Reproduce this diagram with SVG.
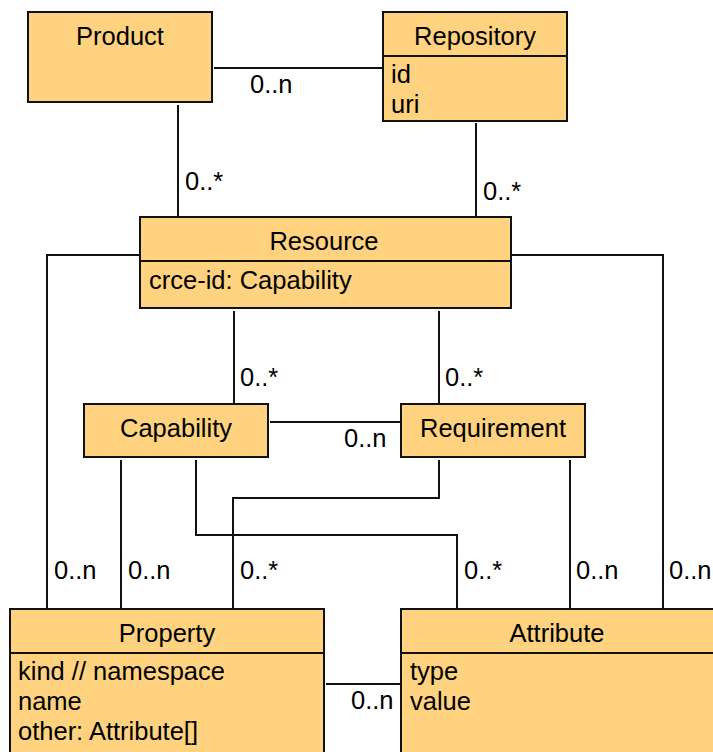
<svg xmlns="http://www.w3.org/2000/svg" width="713" height="752" viewBox="0 0 713 752">
  <style>
    .box { fill: #FED27F; stroke: #111; stroke-width: 2; }
    .div { stroke: #111; stroke-width: 2; }
    .link { fill: none; stroke: #111; stroke-width: 2; }
    text { font-family: "Liberation Sans", Arial, sans-serif; font-size: 25.5px; fill: #000; }
    .title { text-anchor: middle; }
  </style>
  <rect width="713" height="752" fill="#fff"/>

  <!-- associations -->
  <g id="connectors">
    <path class="link" d="M214 68 H383"/>
    <path class="link" d="M178 105 V217"/>
    <path class="link" d="M476 123 V217"/>
    <path class="link" d="M140 255 H47 V609"/>
    <path class="link" d="M511 255 H663 V609"/>
    <path class="link" d="M234 311 V404"/>
    <path class="link" d="M439 311 V404"/>
    <path class="link" d="M270 422 H401"/>
    <path class="link" d="M121 460 V609"/>
    <path class="link" d="M196 460 V535 H457 V609"/>
    <path class="link" d="M439 460 V498 H233 V609"/>
    <path class="link" d="M570 460 V609"/>
    <path class="link" d="M326 684 H401"/>
    <text x="250" y="93">0..n</text>
    <text x="185" y="190">0..*</text>
    <text x="483" y="200">0..*</text>
    <text x="240" y="386">0..*</text>
    <text x="445" y="386">0..*</text>
    <text x="344" y="447">0..n</text>
    <text x="54" y="579">0..n</text>
    <text x="128" y="579">0..n</text>
    <text x="240" y="579">0..*</text>
    <text x="464" y="579">0..*</text>
    <text x="576" y="579">0..n</text>
    <text x="669" y="579">0..n</text>
    <text x="351" y="709">0..n</text>
  </g>

  <g id="product">
    <rect class="box" x="28" y="12" width="184" height="90"/>
    <text class="title" x="120" y="45">Product</text>
  </g>

  <g id="repository">
    <rect class="box" x="383" y="12" width="184" height="109"/>
    <line class="div" x1="383" y1="56" x2="567" y2="56"/>
    <text class="title" x="475" y="45">Repository</text>
    <text x="391" y="83">id</text>
    <text x="391" y="113">uri</text>
  </g>

  <g id="resource">
    <rect class="box" x="140" y="217" width="371" height="91"/>
    <line class="div" x1="140" y1="261" x2="511" y2="261"/>
    <text class="title" x="324" y="250">Resource</text>
    <text x="149" y="289">crce-id: Capability</text>
  </g>

  <g id="capability">
    <rect class="box" x="84" y="404" width="184" height="53"/>
    <text class="title" x="176" y="437">Capability</text>
  </g>

  <g id="requirement">
    <rect class="box" x="401" y="404" width="184" height="53"/>
    <text class="title" x="493" y="437">Requirement</text>
  </g>

  <g id="property">
    <rect class="box" x="10" y="609" width="314" height="160"/>
    <line class="div" x1="10" y1="653" x2="324" y2="653"/>
    <text class="title" x="167" y="642">Property</text>
    <text x="18" y="680">kind // namespace</text>
    <text x="18" y="710">name</text>
    <text x="18" y="740">other: Attribute[]</text>
  </g>

  <g id="attribute">
    <rect class="box" x="401" y="609" width="320" height="160"/>
    <line class="div" x1="401" y1="653" x2="721" y2="653"/>
    <text class="title" x="557" y="642">Attribute</text>
    <text x="410" y="680">type</text>
    <text x="410" y="710">value</text>
  </g>
</svg>
